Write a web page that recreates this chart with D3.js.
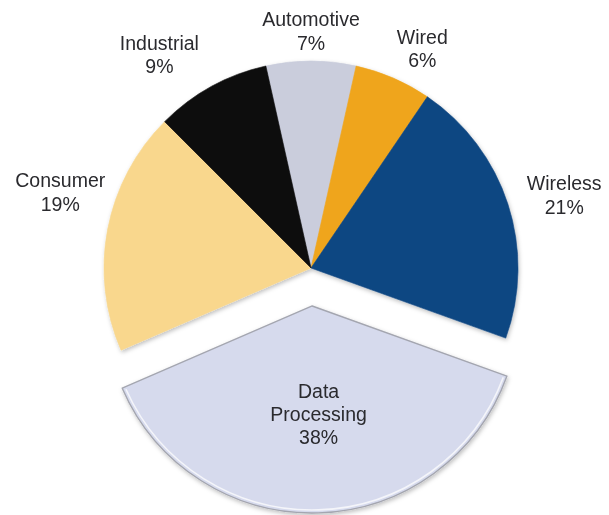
<!DOCTYPE html>
<html>
<head>
<meta charset="utf-8">
<script src="https://cdn.jsdelivr.net/npm/d3@7"></script>
<style>
  html, body { margin: 0; padding: 0; background: #fff; }
  svg { display: block; }
</style>
</head>
<body>
<svg id="chart" width="609" height="515"></svg>
<script>
// Market share by application segment (percent)
const categories = ["Automotive", "Wired", "Wireless", "Data Processing", "Consumer", "Industrial"];
const shares = [7, 6, 21, 38, 19, 9];
const explodedCategory = "Data Processing";

// Slice fills, in category order
const sliceColors = ["#cacddc", "#efa51d", "#0f4682", "#d6daed", "#f9d78d", "#0c0c0c"];

// Nudges for the outside labels (px), applied after radial placement
const labelNudge = {
  "Automotive": [0, 3],
  "Wired": [16, 1],
  "Wireless": [25, 1],
  "Consumer": [-15, -31],
  "Industrial": [-36, -3]
};

const width = 609, height = 515;
const cx = 311, cy = 268, radius = 207;
const explodeDist = 38;
const fontSize = 19.5, lineGap = 23.3;

const svg = d3.select("#chart");
const defs = svg.append("defs");

const shadow = defs.append("filter").attr("id", "soft-shadow")
  .attr("x", "-10%").attr("y", "-10%").attr("width", "120%").attr("height", "120%");
shadow.append("feDropShadow")
  .attr("dx", 1).attr("dy", 2).attr("stdDeviation", 2)
  .attr("flood-color", "#000").attr("flood-opacity", 0.25);

const total = d3.sum(shares);
const startAngle = -Math.PI * shares[0] / total;   // first slice centred on top

const data = categories.map((c, i) => ({ name: c, value: shares[i], color: sliceColors[i] }));

const pie = d3.pie()
  .sort(null)
  .value(d => d.value)
  .startAngle(startAngle)
  .endAngle(startAngle + 2 * Math.PI);

const arcs = pie(data);
const arc = d3.arc().innerRadius(0).outerRadius(radius);
const labelArc = d3.arc().innerRadius(240).outerRadius(240);
const innerLabelArc = d3.arc().innerRadius(108).outerRadius(108);

const g = svg.append("g").attr("transform", `translate(${cx},${cy})`);

function offsetOf(d) {
  if (d.data.name !== explodedCategory) return [0, 0];
  const mid = (d.startAngle + d.endAngle) / 2;
  return [Math.sin(mid) * explodeDist, -Math.cos(mid) * explodeDist];
}

const slices = g.append("g").attr("filter", "url(#soft-shadow)")
  .selectAll("g.slice")
  .data(arcs)
  .join("g")
  .attr("class", "slice")
  .attr("transform", d => { const o = offsetOf(d); return `translate(${o[0]},${o[1]})`; });

slices.append("path")
  .attr("d", arc)
  .attr("fill", d => d.data.color)
  .attr("stroke", d => d.data.name === explodedCategory ? "#a4a6b0" : d.data.color)
  .attr("stroke-width", d => d.data.name === explodedCategory ? 1.4 : 0.6)
  .attr("stroke-linejoin", "round");

// light bevel line just inside the exploded slice's rim
slices.filter(d => d.data.name === explodedCategory)
  .append("path")
  .attr("d", d3.arc().innerRadius(radius - 3).outerRadius(radius - 3)
    .startAngle(d => d.startAngle + 0.012).endAngle(d => d.endAngle - 0.012))
  .attr("fill", "none")
  .attr("stroke", "#f4f5fa")
  .attr("stroke-width", 1.6);

// labels
const labels = g.append("g")
  .attr("font-family", "'Liberation Sans', Arial, Helvetica, sans-serif")
  .attr("font-size", fontSize)
  .attr("fill", "#2a2a2e")
  .attr("text-anchor", "middle");

arcs.forEach(d => {
  const name = d.data.name;
  const pct = d.data.value + "%";
  let lines, pos;
  if (name === explodedCategory) {
    const o = offsetOf(d);
    const c = innerLabelArc.centroid(d);
    lines = name.split(" ").concat([pct]);
    pos = [c[0] + o[0] + 3, c[1] + o[1]];
  } else {
    const c = labelArc.centroid(d);
    const n = labelNudge[name] || [0, 0];
    lines = [name, pct];
    pos = [c[0] + n[0], c[1] + n[1]];
  }
  const text = labels.append("text")
    .attr("x", pos[0])
    .attr("y", pos[1]);
  const firstBaseline = -((lines.length - 1) * lineGap) / 2 + fontSize * 0.36;
  lines.forEach((ln, i) => {
    text.append("tspan")
      .attr("x", pos[0])
      .attr("y", pos[1] + firstBaseline + i * lineGap)
      .text(ln);
  });
});
</script>
</body>
</html>
